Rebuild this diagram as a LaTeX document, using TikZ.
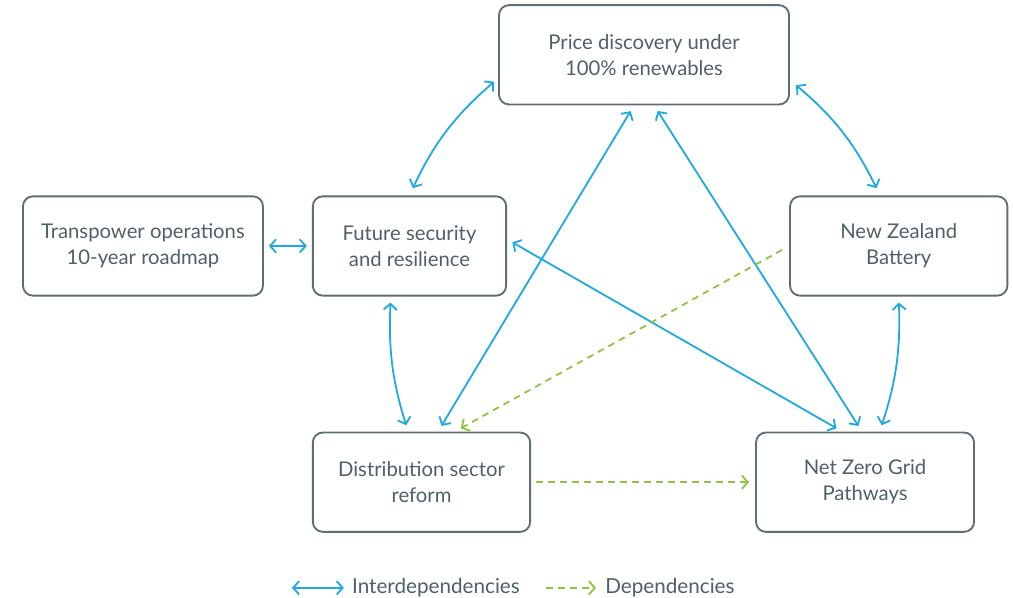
\documentclass[tikz,border=0pt]{standalone}
\usepackage{fontspec}
\setmainfont{Lato}
\usetikzlibrary{positioning, arrows.meta}
\definecolor{intblue}{HTML}{1EA9E1}
\definecolor{depgreen}{HTML}{8CC63F}
\definecolor{boxframe}{HTML}{5D6E77}
\definecolor{boxtext}{HTML}{4E6069}

\begin{document}
\begin{tikzpicture}
	% style
	[>={Straight Barb[length=4.5pt, width=10pt]},
	box/.style={rectangle, rounded corners=7.5pt, draw=boxframe, line width=1.4pt, text=boxtext, align=center, minimum height=74.5pt, inner sep=0pt, font=\fontsize{15.2}{19.5}\selectfont},
	interlink/.style={<->, color=intblue, line width=1.35pt},
	deplink/.style={->, color=depgreen, line width=1.35pt, dash pattern=on 5pt off 4pt},
	legendtext/.style={inner sep=0pt, text=boxtext, font=\fontsize{15.5}{18}\selectfont}]

	\useasboundingbox (-307.125pt, 184.5pt) rectangle (452.625pt, -264pt);

	% middle row
	\node [box, minimum width=145pt] (future) {Future security\\and resilience};
	\node [box, minimum width=180pt, left=36pt of future] (transpower) {Transpower operations\\10-year roadmap};
	\node [box, minimum width=163pt, right=211.5pt of future] (battery) {New Zealand\\Battery};

	% top
	\node [box, minimum width=217.5pt, above right=67.5pt and -6.75pt of future] (price) {Price discovery under\\100\% renewables};

	% bottom row
	\node [box, minimum width=163pt, below=101.25pt of future.south west, anchor=north west] (distribution) {Distribution sector\\reform};
	\node [box, minimum width=163.5pt, right=168pt of distribution] (netzero) {Net Zero Grid\\Pathways};

	% interdependencies
	\path[interlink] (future.north)		edge[bend left=12, shorten <=6pt, shorten >=4pt] ([yshift=-17.6pt]price.west)
	                ([yshift=-19pt]price.east)	edge[bend left=12, shorten <=6pt, shorten >=6pt] ([xshift=-14pt]battery.north)
	                (transpower.east)	edge[shorten <=3.75pt, shorten >=3.75pt] (future.west)
	                ([xshift=-14pt]future.south)	edge[bend right=10, shorten <=4.5pt, shorten >=5pt] ([xshift=-10pt]distribution.north)
	                (battery.south)		edge[bend left=10, shorten <=4.5pt, shorten >=5pt] ([xshift=11pt]netzero.north)
	                ([xshift=-7.5pt]price.south)	edge[shorten <=5pt, shorten >=5pt] ([xshift=12.4pt]distribution.north)
	                ([xshift=7.5pt]price.south)	edge[shorten <=5pt, shorten >=5pt] ([xshift=-2.25pt]netzero.north)
	                ([yshift=5pt]future.east)	edge[shorten <=4.5pt, shorten >=5pt] ([xshift=-17pt]netzero.north);

	% dependencies
	\path[deplink] (battery.west)		edge[shorten <=6pt, shorten >=5pt] ([xshift=25pt]distribution.north)
	               (distribution.east)	edge[shorten <=3.75pt, shorten >=4.5pt] (netzero.west);

	% legend
	\coordinate (interstart) at ([xshift=-15pt, yshift=-41.25pt]distribution.south west);
	\coordinate [right=39pt of interstart] (interend);
	\node [legendtext, right=6pt of interend] (interlabel) {Interdependencies};
	\coordinate [right=19.5pt of interlabel] (depstart);
	\coordinate [right=37.5pt of depstart] (depend);
	\node [legendtext, right=6.75pt of depend] (deplabel) {Dependencies};
	\draw[interlink] (interstart) -- (interend);
	\draw[deplink] (depstart) -- (depend);
\end{tikzpicture}
\end{document}
